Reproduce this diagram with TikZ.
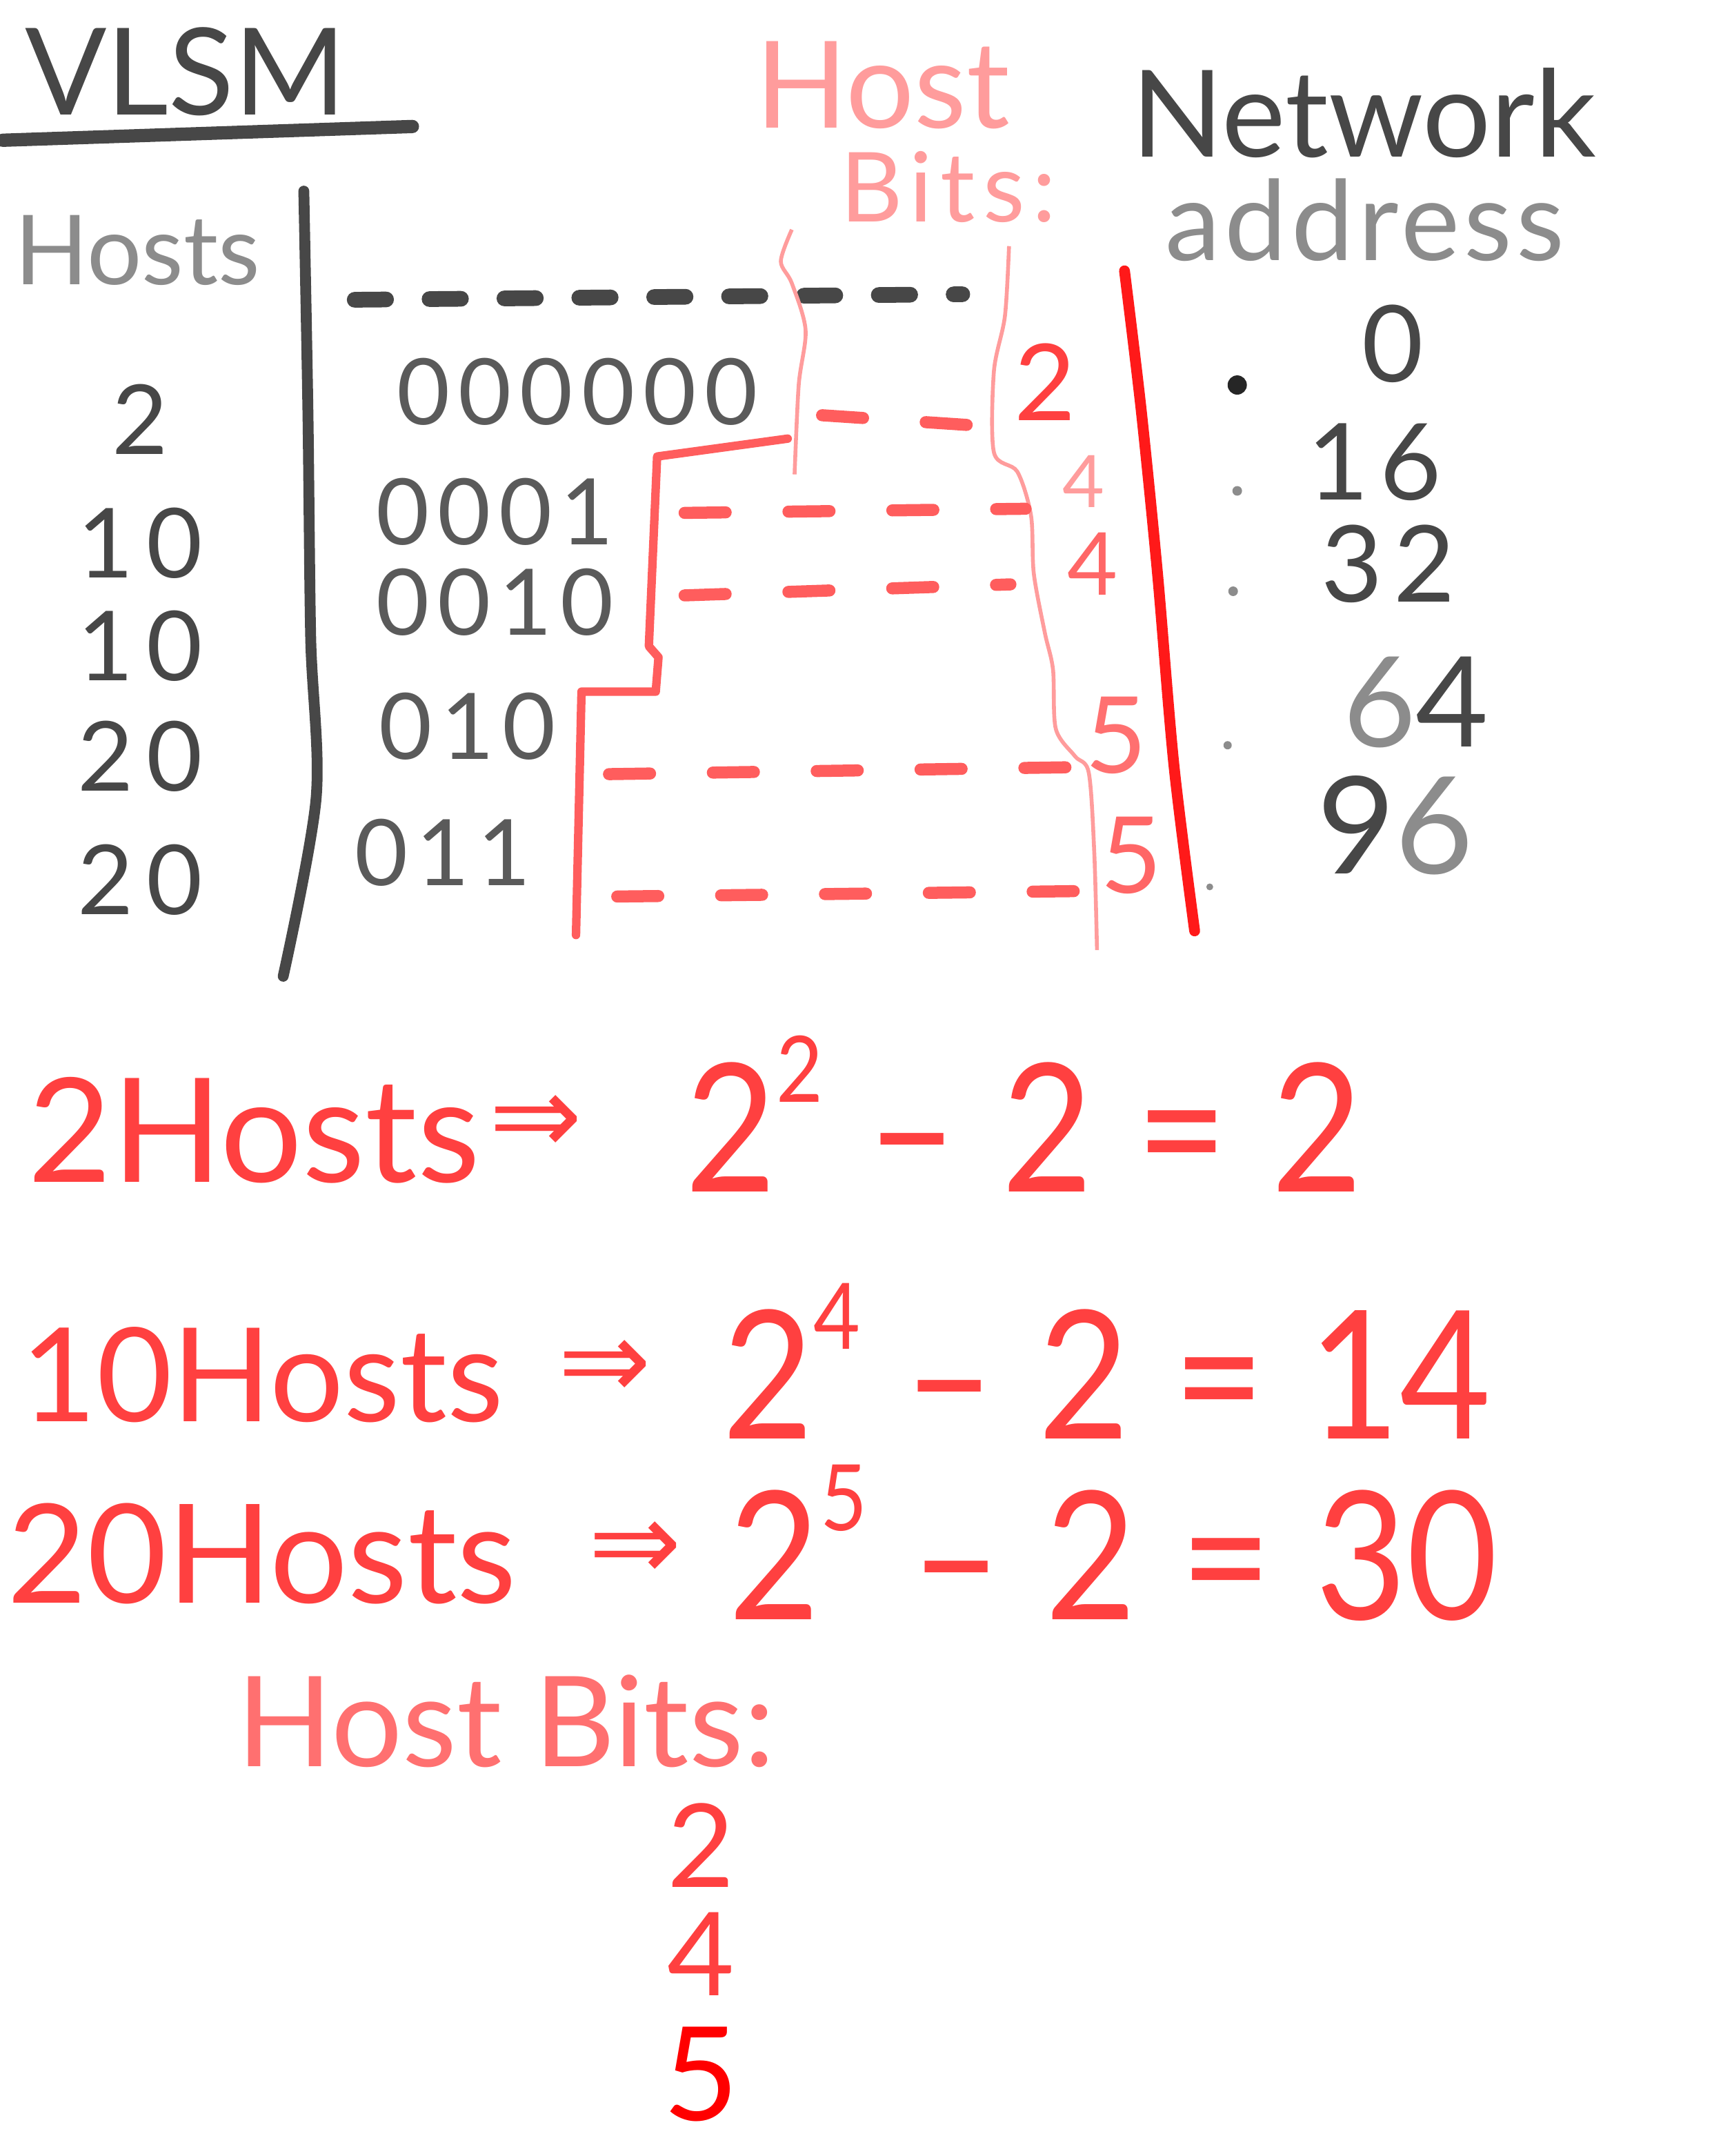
\documentclass[tikz,border=0pt]{standalone}
\usepackage{fontspec}
\usepackage{graphicx}
\setmainfont{Lato}
\newfontfamily\dejavuarrows{DejaVu Sans}
\usetikzlibrary{positioning,calc}
\definecolor{inkgrey}{HTML}{474747}
\definecolor{lightgrey}{HTML}{8C8C8C}
\definecolor{inkred}{HTML}{FF4040}
\definecolor{palered}{HTML}{FF9C9C}
\newcommand{\narrowtext}[1]{\scalebox{0.88}[1]{#1}}
\newcommand{\expo}[1]{\raisebox{0.5em}{\fontsize{38}{40}\selectfont #1}}

\begin{document}
\begin{tikzpicture}[
    x=0.02cm, y=-0.02cm,
    titleText/.style={font=\fontsize{50}{54}\selectfont, text=inkgrey, inner sep=0pt},
    headText/.style={font=\fontsize{40}{44}\selectfont, text=lightgrey, inner sep=0pt},
    hostNum/.style={font=\fontsize{40}{44}\selectfont\addfontfeature{LetterSpace=14}, text=inkgrey, inner sep=0pt},
    binDigits/.style={font=\fontsize{38}{42}\selectfont\addfontfeature{LetterSpace=9}, text=inkgrey!90, inner sep=0pt},
    netText/.style={font=\fontsize{50}{54}\selectfont, text=inkgrey, inner sep=0pt},
    netAddr/.style={font=\fontsize{44}{48}\selectfont\addfontfeature{LetterSpace=10}, text=inkgrey, inner sep=0pt},
    bitsHead/.style={font=\fontsize{50}{54}\selectfont, text=palered, inner sep=0pt},
    bitsNum/.style={font=\fontsize{44}{48}\selectfont, text=inkred, inner sep=0pt},
    eqLeft/.style={font=\fontsize{60}{64}\selectfont, text=inkred, inner sep=0pt, anchor=west},
    eqArrow/.style={font=\dejavuarrows\fontsize{46}{50}\selectfont, text=inkred, inner sep=0pt},
    eqRight/.style={font=\fontsize{74}{78}\selectfont, text=inkred, inner sep=0pt, anchor=west},
    greyDash/.style={line width=6.5pt, draw=inkgrey, line cap=round, dash pattern=on 13pt off 18pt},
    redDash/.style={line width=5pt, draw=inkred!85, line cap=round, dash pattern=on 17pt off 26pt},
    greyLine/.style={line width=4.5pt, draw=inkgrey, line cap=round},
    redLine/.style={line width=4.5pt, draw=red!90, line cap=round},
    stairLine/.style={line width=3.5pt, draw=inkred!85, line cap=round, line join=round},
    paleLine/.style={line width=1.6pt, draw=palered}
]
    \useasboundingbox (0,0) rectangle (1245,1568);

    % Title
    \node[titleText] (title) at (135,52) {VLSM};
    \draw[line width=5.5pt, draw=inkgrey, line cap=round] (2,102) -- (300,92);

    % Column heads
    \node[headText] (hostsHead) at (100,182) {Hosts};
    \node[bitsHead] (bitsHeadA) at (642,62) {Host};
    \node[bitsHead, font=\fontsize{40}{44}\selectfont\addfontfeature{LetterSpace=8}] (bitsHeadB) at (690,136) {Bits:};
    \node[netText] (netHead) at (992,82) {Network};
    \node[netText, text=lightgrey, font=\fontsize{46}{50}\selectfont\addfontfeature{LetterSpace=4}] (addrHead) at (993,160) {address};

    % Host counts
    \foreach \y/\n [count=\i] in {305/2, 395/10, 470/10, 550/20, 640/20}
        \node[hostNum] (host\i) at (102,\y) {\n};

    % Left frame line
    \draw[greyLine] plot[smooth] coordinates {(221,139) (224,300) (226,464) (230,580) (206,710)};

    % Grey dashed row
    \draw[greyDash] (258,218) -- (700,214);

    % Binary prefixes
    \foreach \x/\y/\b [count=\i] in {420/285/000000, 360/372/0001, 360/438/0010, 340/528/010, 322/620/011}
        \node[binDigits] (bin\i) at (\x,\y) {\b};

    % Pale boundary lines
    \draw[paleLine] plot[smooth] coordinates {(576,167) (568,190) (576,206) (586,240) (581,280) (578,345)};
    \draw[paleLine] plot[smooth] coordinates {(734,179) (731,230) (723,270) (723,329) (740,343) (750,375) (752,417) (760,460) (766,487) (768,530) (782,550) (792,562) (796,620) (798,691)};

    % Red staircase
    \draw[stairLine] (573,319) -- (478,332) -- (472,470) -- (479,478) -- (477,503) -- (423,503) -- (419,680);

    % Red dashed rows
    \foreach \ya/\xa/\yb/\xb in {302/598/310/718, 373/498/370/746, 433/498/425/735, 563/443/558/778, 652/449/648/790}
        \draw[redDash] (\xa,\ya) -- (\xb,\yb);

    % Host bit counts
    \node[bitsNum] (hb1) at (760,278) {2};
    \node[bitsNum, text=palered, font=\fontsize{30}{32}\selectfont] (hb2) at (788,350) {4};
    \node[bitsNum, text=inkred!80, font=\fontsize{36}{40}\selectfont] (hb3) at (795,410) {4};
    \node[bitsNum, text=inkred!75] (hb4) at (812,535) {5};
    \node[bitsNum, text=inkred!80] (hb5) at (823,622) {5};

    % Right red line
    \draw[redLine] plot[smooth] coordinates {(818,197) (830,297) (842,417) (854,557) (869,677)};

    % Network addresses
    \fill[black!85] (900,280) circle (7);
    \fill[lightgrey] (900,357) circle (3.5);
    \fill[lightgrey] (897,430) circle (3.5);
    \fill[lightgrey] (893,542) circle (3);
    \fill[lightgrey] (880,645) circle (2.5);
    \node[netAddr] (addr1) at (1013,250) {0};
    \node[netAddr] (addr2) at (1000,336) {16};
    \node[netAddr] (addr3) at (1010,410) {32};
    \node[netAddr, font=\fontsize{52}{56}\selectfont\addfontfeature{LetterSpace=40}] (addr4) at (1030,511) {\textcolor{lightgrey}{6}4};
    \node[netAddr, font=\fontsize{56}{60}\selectfont\addfontfeature{LetterSpace=18}] (addr5) at (1015,600) {9\textcolor{lightgrey}{6}};

    % Host calculations
    \node[eqLeft] (calcA) at (20,822) {2Hosts};
    \node[eqArrow] (arrA) at (390,818) {⇒};
    \node[eqRight] (resA) at (498,810) {\narrowtext{2\expo{2}\;–\;2\;=\;2}};

    \node[eqLeft, font=\fontsize{54}{58}\selectfont] (calcB) at (15,1000) {10Hosts};
    \node[eqArrow] (arrB) at (440,996) {⇒};
    \node[eqRight] (resB) at (525,990) {\narrowtext{2\expo{4}\;–\;2\;=\;14}};

    \node[eqLeft, font=\fontsize{57}{61}\selectfont] (calcC) at (5,1130) {20Hosts};
    \node[eqArrow] (arrC) at (462,1128) {⇒};
    \node[eqRight] (resC) at (530,1122) {\narrowtext{2\expo{5}\;–\;2\;=\;30}};

    % Host bits summary
    \node[bitsHead, text=inkred!75, font=\fontsize{52}{56}\selectfont] (sumHead) at (368,1252) {Host Bits:};
    \node[bitsNum, font=\fontsize{48}{52}\selectfont] (sum2) at (510,1342) {2};
    \node[bitsNum, font=\fontsize{48}{52}\selectfont, below=0.35cm of sum2] (sum4) {4};
    \node[bitsNum, font=\fontsize{54}{58}\selectfont, text=red, below=0.45cm of sum4] (sum5) {5};

\end{tikzpicture}
\end{document}
